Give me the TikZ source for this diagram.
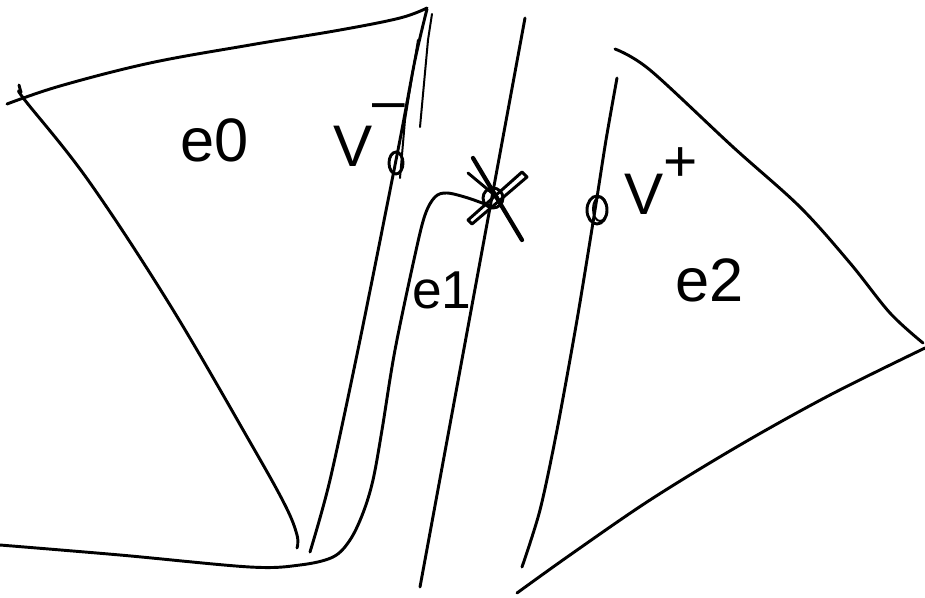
\documentclass[tikz,border=0pt]{standalone}
\usepackage{fontspec}
\setmainfont{Liberation Sans}
\usetikzlibrary{shapes.geometric}
\begin{document}
\begin{tikzpicture}[x=0.75pt,y=-0.75pt,
  ink/.style={line width=2.2pt, line cap=round, line join=round},
  fine/.style={line width=1.5pt, line cap=round, line join=round},
  heavy/.style={line width=3.2pt, line cap=round, line join=round},
  lbl/.style={inner sep=0pt, font=\fontsize{46}{46}\selectfont}]
\useasboundingbox (0,0) rectangle (925,597);
% ---- e0 region ----
\draw[ink] plot[smooth, tension=0.6] coordinates {(7,104) (60,86) (150,63) (250,45) (340,30) (400,18) (427,8)};
\draw[ink] plot[smooth, tension=0.6] coordinates {(19,85) (21,92) (24,99) (88,180) (170,305) (250,442) (285,505) (297,535) (297,548)};
\draw[ink] plot[smooth, tension=0.5] coordinates {(427,9) (415,60) (398,150) (360,340) (330,480) (310,552)};
\draw[fine] (432,14) -- (428,40) -- (420,127);
\draw[fine] (418,40) -- (405,120) -- (400,178);
\draw[ink] (396,163) ellipse [x radius=7, y radius=11];
\node[lbl, font=\fontsize{44}{44}\selectfont, anchor=base west] (vminus) at (333,166) {V\raisebox{0.78em}{–}};
\node[lbl] (e0) at (215,140) {e0};
% ---- bottom / e1 left curve ----
\draw[ink] plot[smooth, tension=0.55] coordinates {(0,545) (120,555) (250,567) (300,565) (333,557) (350,540) (363,513) (373,480) (382,430) (395,350) (415,255) (425,215) (435,197) (447,193) (468,198) (490,206)};
% ---- e1 right line ----
\draw[ink] (525,18) -- (420,587);
% X mark
\draw[heavy] (473,158) -- (522,240);
\draw[ink] (468,173) -- (498,198);
\draw[ink] (468,220) -- (522,172) -- (527,177) -- (472,224) -- cycle;
\draw[ink] (493,198) circle [radius=10];
\node[lbl, font=\fontsize{40}{40}\selectfont] (e1) at (442,290) {e1};
% ---- e2 region ----
\draw[ink] plot[smooth, tension=0.5] coordinates {(617,78) (606,140) (595,210) (577,320) (557,430) (540,510) (522,567)};
\draw[ink] (597,210) ellipse [x radius=10, y radius=14];
\draw[fine] (600,209) ellipse [x radius=7, y radius=12];
\node[lbl, font=\fontsize{44}{44}\selectfont, anchor=base west] (vplus) at (624,214) {V\raisebox{0.55em}{+}};
\draw[ink] plot[smooth, tension=0.55] coordinates {(615,49) (650,70) (733,147) (800,207) (850,263) (890,313) (923,343)};
\draw[ink] plot[smooth, tension=0.55] coordinates {(517,593) (570,555) (650,500) (740,445) (830,395) (925,348)};
\node[lbl] (e2) at (710,280) {e2};
\end{tikzpicture}
\end{document}
